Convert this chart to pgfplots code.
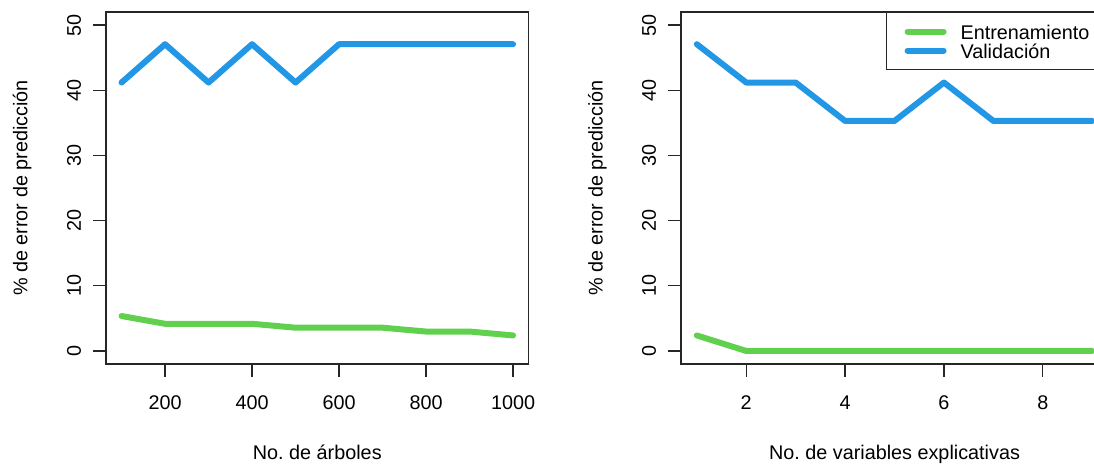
\documentclass[border=0pt]{standalone}
\usepackage{fontspec}
\setmainfont{Liberation Sans}
\usepackage{pgfplots}
\pgfplotsset{compat=1.18}

\definecolor{rgreen}{HTML}{61D04F}
\definecolor{rblue}{HTML}{2297E6}
\definecolor{frame}{HTML}{262626}

\newcommand{\chartfont}{\fontsize{19.8}{23}\selectfont}
\frenchspacing

\pgfplotsset{
  panel/.style={
    scale only axis, height=352pt,
    anchor=south west,
    ymin=-2, ymax=52, ytick={0,10,...,50},
    axis line style={line width=1.3pt, frame},
    every tick/.style={line width=1.3pt, frame},
    tick align=outside, major tick length=12.7pt,
    xtick pos=left, ytick pos=left,
    font=\chartfont,
    ticklabel style={font=\chartfont, inner sep=0pt},
    xticklabel style={anchor=north, yshift=-19pt},
    yticklabel style={rotate=90, anchor=south},
    yticklabel shift=12pt,
    /pgf/number format/assume math mode=true,
    /pgf/number format/1000 sep={},
    label style={font=\chartfont, inner sep=0pt},
    xlabel style={anchor=base},
    ylabel style={anchor=base},
  },
  curve/.style={line width=6pt, line cap=round, line join=round},
}

\begin{document}
\begin{tikzpicture}
% Number of trees
\begin{axis}[panel, at={(105.9pt,99pt)}, width=422.8pt,
    xmin=64, xmax=1036, xtick={200,400,...,1000},
    xlabel={No.\ de árboles},
    ylabel={\% de error de predicción},
    xlabel style={at={(axis description cs:0.5,-0.2707)}},
    ylabel style={at={(axis description cs:-0.1857,0.5)}}]
  \addplot[curve, rgreen] coordinates {
    (100,5.36) (200,4.17) (300,4.17) (400,4.17) (500,3.57)
    (600,3.57) (700,3.57) (800,2.98) (900,2.98) (1000,2.38)};
  \addplot[curve, rblue] coordinates {
    (100,41.18) (200,47.06) (300,41.18) (400,47.06) (500,41.18)
    (600,47.06) (700,47.06) (800,47.06) (900,47.06) (1000,47.06)};
\end{axis}
% Number of explanatory variables
\begin{axis}[panel, at={(681pt,99pt)}, width=427pt,
    xmin=0.68, xmax=9.32, xtick={2,4,6,8},
    xlabel={No.\ de variables explicativas},
    ylabel={\% de error de predicción},
    xlabel style={at={(axis description cs:0.5,-0.2707)}},
    ylabel style={at={(axis description cs:-0.1838,0.5)}},
    legend cell align=left,
    legend image code/.code={\draw[line width=6pt, line cap=round] (0pt,0pt) -- (36pt,0pt);},
    legend style={at={(1,1)}, anchor=north east, draw=frame, line width=1.3pt,
      font=\chartfont, inner xsep=18pt, inner ysep=9.5pt, row sep=0pt,
      nodes={inner sep=0pt, text height=17.8pt, text depth=1.2pt},
      /tikz/every odd column/.append style={column sep=14pt}}]
  \addplot[curve, rgreen] coordinates {
    (1,2.38) (2,0) (3,0) (4,0) (5,0) (6,0) (7,0) (8,0) (9,0)};
  \addlegendentry{Entrenamiento}
  \addplot[curve, rblue] coordinates {
    (1,47.06) (2,41.18) (3,41.18) (4,35.29) (5,35.29)
    (6,41.18) (7,35.29) (8,35.29) (9,35.29)};
  \addlegendentry{Validación}
\end{axis}
\pgfresetboundingbox
\useasboundingbox (0,0) rectangle (1094pt,463pt);
\end{tikzpicture}
\end{document}
